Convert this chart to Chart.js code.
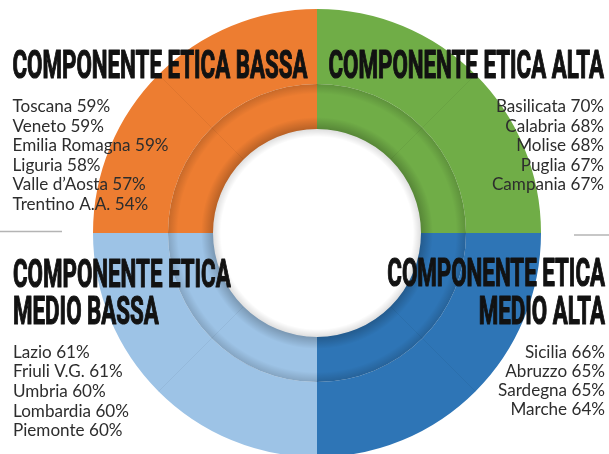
<!DOCTYPE html>
<html><head><meta charset="utf-8">
<script src="https://cdn.jsdelivr.net/npm/chart.js@4"></script>
<style>html,body{margin:0;padding:0;background:#fff;overflow:hidden}canvas{display:block}</style>
</head><body>
<canvas id="c" width="609" height="454"></canvas>
<script>
// ---- data ----
const groups = ['COMPONENTE ETICA ALTA', 'COMPONENTE ETICA MEDIO ALTA', 'COMPONENTE ETICA MEDIO BASSA', 'COMPONENTE ETICA BASSA'];
const groupShares = [25, 25, 25, 25];
const titleLines = [['COMPONENTE ETICA ALTA'], ['COMPONENTE ETICA', 'MEDIO ALTA'], ['COMPONENTE ETICA', 'MEDIO BASSA'], ['COMPONENTE ETICA BASSA']];
const regionsAlta = ['Basilicata', 'Calabria', 'Molise', 'Puglia', 'Campania'];
const valuesAlta = [70, 68, 68, 67, 67];
const regionsMedioAlta = ['Sicilia', 'Abruzzo', 'Sardegna', 'Marche'];
const valuesMedioAlta = [66, 65, 65, 64];
const regionsMedioBassa = ['Lazio', 'Friuli V.G.', 'Umbria', 'Lombardia', 'Piemonte'];
const valuesMedioBassa = [61, 61, 60, 60, 60];
const regionsBassa = ['Toscana', 'Veneto', 'Emilia Romagna', 'Liguria', 'Valle d\u2019Aosta', 'Trentino A.A.'];
const valuesBassa = [59, 59, 59, 58, 57, 54];
const groupRegions = [regionsAlta, regionsMedioAlta, regionsMedioBassa, regionsBassa];
const groupValues = [valuesAlta, valuesMedioAlta, valuesMedioBassa, valuesBassa];

// ---- styles ----
const groupColors = ['#70AD47', '#2E75B6', '#9DC3E6', '#ED7D31'];
const blockLayout = [
  {x: 604, align: 'right', titleY: [77.5], bodyY: 112, pitch: 19.6},
  {x: 605, align: 'right', titleY: [286, 323.5], bodyY: 357.5, pitch: 19.3},
  {x: 13, align: 'left', titleY: [287, 323.5], bodyY: 357.5, pitch: 19.7},
  {x: 12.5, align: 'left', titleY: [77.5], bodyY: 112, pitch: 19.6}
];

const TITLE_FONT = 'bold 38px Roboto';
const BODY_FONT = '16.5px Lato';

function drawScaled(ctx, text, x, y, align, sx, stroke) {
  ctx.save();
  ctx.translate(x, y);
  ctx.scale(sx, 1);
  ctx.textAlign = align;
  ctx.textBaseline = 'alphabetic';
  ctx.fillText(text, 0, 0);
  if (stroke) { ctx.lineWidth = stroke; ctx.lineJoin = 'round'; ctx.strokeText(text, 0, 0); }
  ctx.restore();
}

const overlay = {
  id: 'overlay',
  afterDatasetsDraw(chart) {
    const ctx = chart.ctx;
    const outerArcs = chart.getDatasetMeta(0).data;
    const innerArcs = chart.getDatasetMeta(1).data;
    const cx = outerArcs[0].x, cy = outerArcs[0].y;
    const rOut = outerArcs[0].outerRadius, rB = innerArcs[0].outerRadius, rH = innerArcs[0].innerRadius;
    ctx.save();
    // faint mid-quadrant lines
    ctx.strokeStyle = 'rgba(0,0,0,0.05)';
    ctx.lineWidth = 1;
    outerArcs.forEach(arc => {
      const a = (arc.startAngle + arc.endAngle) / 2;
      ctx.beginPath();
      ctx.moveTo(cx + Math.cos(a) * rH, cy + Math.sin(a) * rH);
      ctx.lineTo(cx + Math.cos(a) * rOut, cy + Math.sin(a) * rOut);
      ctx.stroke();
    });
    // shadow at ring boundary (inner side)
    let g = ctx.createRadialGradient(cx, cy, rB - 10, cx, cy, rB);
    g.addColorStop(0, 'rgba(0,0,0,0)');
    g.addColorStop(1, 'rgba(0,0,0,0.16)');
    ctx.fillStyle = g;
    ctx.beginPath();
    ctx.arc(cx, cy, rB, 0, Math.PI * 2);
    ctx.arc(cx, cy, rB - 10, 0, Math.PI * 2, true);
    ctx.fill();
    // shadow of central disc onto ring
    g = ctx.createRadialGradient(cx, cy, rH, cx, cy, rH + 12);
    g.addColorStop(0, 'rgba(0,0,0,0.22)');
    g.addColorStop(1, 'rgba(0,0,0,0)');
    ctx.fillStyle = g;
    ctx.beginPath();
    ctx.arc(cx, cy, rH + 12, 0, Math.PI * 2);
    ctx.arc(cx, cy, rH, 0, Math.PI * 2, true);
    ctx.fill();
    // soft grey rim inside the white disc
    g = ctx.createRadialGradient(cx, cy, rH - 8, cx, cy, rH);
    g.addColorStop(0, 'rgba(0,0,0,0)');
    g.addColorStop(1, 'rgba(0,0,0,0.13)');
    ctx.fillStyle = g;
    ctx.beginPath();
    ctx.arc(cx, cy, rH, 0, Math.PI * 2);
    ctx.arc(cx, cy, rH - 8, 0, Math.PI * 2, true);
    ctx.fill();
    ctx.restore();
  },
  afterDraw(chart) {
    const ctx = chart.ctx;
    ctx.save();
    // separator rules
    ctx.strokeStyle = '#b4b4b4';
    ctx.lineWidth = 1.5;
    ctx.beginPath(); ctx.moveTo(0, 231.5); ctx.lineTo(62, 231.5); ctx.stroke();
    ctx.beginPath(); ctx.moveTo(574, 235); ctx.lineTo(609, 235); ctx.stroke();

    ctx.font = TITLE_FONT;
    const titleScale = 295 / ctx.measureText(groups[3]).width;
    ctx.font = BODY_FONT;
    const bodyScale = 156 / ctx.measureText(regionsBassa[2] + ' ' + valuesBassa[2] + '%').width;

    groups.forEach((grp, i) => {
      const L = blockLayout[i];
      ctx.font = TITLE_FONT;
      ctx.fillStyle = '#121212';
      ctx.strokeStyle = '#121212';
      titleLines[i].forEach((line, k) => drawScaled(ctx, line, L.x, L.titleY[k], L.align, titleScale, 1.2));
      ctx.font = BODY_FONT;
      ctx.fillStyle = '#2d2d2d';
      groupRegions[i].forEach((name, k) => {
        drawScaled(ctx, name + ' ' + groupValues[i][k] + '%', L.x, L.bodyY + k * L.pitch, L.align, bodyScale, 0);
      });
    });
    ctx.restore();
  }
};

new Chart(document.getElementById('c'), {
  type: 'doughnut',
  data: {
    labels: groups,
    datasets: [
      {data: groupShares, backgroundColor: groupColors, weight: 75, borderWidth: 0},
      {data: groupShares, backgroundColor: groupColors, weight: 45, borderWidth: 0}
    ]
  },
  options: {
    responsive: false,
    animation: false,
    events: [],
    radius: 224,
    cutout: '46.43%',
    layout: {padding: {left: 25, right: 0, top: 12, bottom: 0}},
    plugins: {legend: {display: false}, tooltip: {enabled: false}, title: {display: false}}
  },
  plugins: [overlay]
});
</script>
</body></html>
